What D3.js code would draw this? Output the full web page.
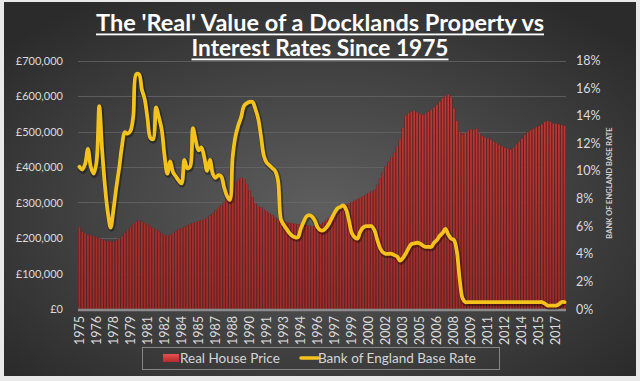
<!DOCTYPE html>
<html><head><meta charset="utf-8">
<script src="https://cdn.jsdelivr.net/npm/d3@7/dist/d3.min.js"></script>
<style>html,body{margin:0;padding:0;background:#fff}svg{display:block}</style>
</head><body>
<svg id="chart" width="640" height="381"></svg>
<script>
// ---------- DATA ----------
const years = [1975,1976,1977,1978,1979,1980,1981,1982,1983,1984,1985,1986,1987,1988,1989,1990,1991,1992,1993,1994,1995,1996,1997,1998,1999,2000,2001,2002,2003,2004,2005,2006,2007,2008,2009,2010,2011,2012,2013,2014,2015,2016,2017];
const quarterNames = ["Q1","Q2","Q3","Q4"];
const tickLabels = ["1975","1976","1978","1979","1981","1982","1984","1985","1987","1988","1990","1991","1993","1994","1996","1997","1999","2000","2002","2003","2005","2006","2008","2009","2011","2012","2014","2015","2017"];
const leftTicks = [0,100000,200000,300000,400000,500000,600000,700000];
const rightTicks = [0,2,4,6,8,10,12,14,16,18];
// Real house price (£), quarterly 1975 Q1 .. 2017 Q4
const realHousePrice = [
 230000,218000,214000,210000, 207000,205000,202000,199000, 196000,193000,191000,190000, 190000,193000,199000,206000,
 214000,222000,231000,239000, 245000,249000,246000,242000, 238000,233000,228000,223000, 218000,213000,208000,206000,
 209000,214000,219000,224000, 228000,232000,236000,239000, 242000,245000,248000,250000, 253000,257000,263000,269000,
 277000,285000,292000,300000, 315000,330000,345000,356000, 364000,370000,366000,352000, 335000,315000,298000,290000,
 286000,281000,276000,270000, 264000,258000,252000,248000, 246000,244000,243000,241000, 240000,239000,238000,237000,
 236000,235000,234000,233000, 234000,238000,244000,250000, 256000,262000,268000,274000, 280000,286000,292000,297000,
 301000,305000,309000,313000, 318000,322000,327000,331000, 336000,350000,368000,385000, 402000,415000,428000,440000,
 458000,477000,510000,545000, 552000,556000,558000,554000, 549000,547000,551000,556000, 562000,568000,575000,584000,
 594000,601000,604000,596000, 565000,530000,500000,491000, 496000,503000,506000,505000, 508000,496000,487000,484000,
 481000,477000,472000,467000, 462000,458000,454000,451000, 449000,455000,464000,472000, 480000,490000,498000,503000,
 508000,512000,515000,520000, 527000,530000,527000,522000, 522000,520000,518000,516000
];
// Bank of England base rate (%), quarterly 1975 Q1 .. 2017 Q4
const baseRate = [
 10.3,10.1,10.5,11.6, 10.3,9.8,10.6,14.7, 11.5,8.9,7.0,5.9, 7.2,8.8,10.2,11.8,
 12.8,12.7,12.9,14.0, 17.0,17.0,15.9,15.2, 13.8,12.4,12.3,14.6, 13.9,13.0,11.1,9.8,
 10.7,9.9,9.6,9.3, 9.1,10.8,10.2,10.3, 13.1,12.2,11.5,11.7, 11.0,10.0,10.8,9.8,
 9.5,9.7,9.6,8.8, 8.2,7.9,11.0,12.5, 13.3,13.9,14.7,14.9, 15.0,15.0,14.5,13.8,
 12.5,11.1,10.6,10.4, 10.2,10.0,9.3,6.5, 6.1,5.8,5.5,5.3, 5.2,5.2,5.8,6.3,
 6.7,6.8,6.7,6.4, 5.9,5.7,5.7,5.9, 6.2,6.6,7.0,7.3, 7.4,7.5,7.2,6.4,
 5.5,5.2,5.1,5.6, 5.9,6.0,6.0,6.0, 5.7,5.0,4.4,4.1, 4.0,4.0,4.0,3.9,
 3.8,3.5,3.7,4.0, 4.4,4.7,4.75,4.8, 4.75,4.6,4.5,4.5, 4.5,4.8,5.0,5.3,
 5.5,5.8,5.4,5.1, 5.0,4.2,2.2,0.8, 0.5,0.5,0.5,0.5, 0.5,0.5,0.5,0.5,
 0.5,0.5,0.5,0.5, 0.5,0.5,0.5,0.5, 0.5,0.5,0.5,0.5, 0.5,0.5,0.5,0.5,
 0.5,0.5,0.5,0.5, 0.4,0.25,0.25,0.25, 0.25,0.35,0.5,0.5
];
const categories = years.flatMap(y => quarterNames.map(q => y + " " + q));
const seriesNames = ["Real House Price", "Bank of England Base Rate"];

// ---------- CHART ----------
const svg = d3.select("#chart");
const W = 640, H = 381;
const plot = {left: 78, right: 566, top: 60.5, bottom: 309};
const FONT = "Lato, 'Open Sans', sans-serif";

const defs = svg.append("defs");
const bg = defs.append("radialGradient").attr("id","bgGrad").attr("cx","50%").attr("cy","55%").attr("r","66%");
bg.append("stop").attr("offset","0%").attr("stop-color","#5e5e5e");
bg.append("stop").attr("offset","100%").attr("stop-color","#2b2b2b");
const bGrad = defs.append("linearGradient").attr("id","barGrad").attr("gradientUnits","userSpaceOnUse")
  .attr("x1",0).attr("y1",plot.top).attr("x2",0).attr("y2",plot.bottom);
bGrad.append("stop").attr("offset","0%").attr("stop-color","#c63e3a");
bGrad.append("stop").attr("offset","100%").attr("stop-color","#9a2c2a");
const lg = defs.append("linearGradient").attr("id","legRed").attr("x1",0).attr("y1",0).attr("x2",0).attr("y2",1);
lg.append("stop").attr("offset","0%").attr("stop-color","#e85050");
lg.append("stop").attr("offset","100%").attr("stop-color","#b52a2a");

// frame
svg.append("rect").attr("x",0).attr("y",0).attr("width",W).attr("height",H).attr("fill","#e9e9e9");
svg.append("rect").attr("x",4).attr("y",2).attr("width",632).attr("height",374).attr("fill","url(#bgGrad)");

const x = d3.scaleBand().domain(categories).range([plot.left, plot.right]).padding(0);
const yL = d3.scaleLinear().domain([0,700000]).range([plot.bottom, plot.top]);
const yR = d3.scaleLinear().domain([0,18]).range([plot.bottom, plot.top]);
const bw = x.bandwidth();

// gridlines
svg.append("g").selectAll("line").data(leftTicks.slice(1)).join("line")
  .attr("x1",plot.left).attr("x2",plot.right)
  .attr("y1",d=>Math.round(yL(d))+0.5).attr("y2",d=>Math.round(yL(d))+0.5)
  .attr("stroke","#6a6a6a").attr("stroke-width",1).attr("opacity",0.7);

// bars
const bars = svg.append("g");
bars.selectAll("rect.base").data(realHousePrice).join("rect").attr("class","base")
  .attr("x",(d,i)=>x(categories[i])).attr("width",bw)
  .attr("y",d=>yL(d)).attr("height",d=>yL(0)-yL(d))
  .attr("fill","#5f1d1d");
bars.selectAll("rect.hi").data(realHousePrice).join("rect").attr("class","hi")
  .attr("x",(d,i)=>x(categories[i])+bw*0.2).attr("width",bw*0.6)
  .attr("y",d=>yL(d)).attr("height",d=>yL(0)-yL(d))
  .attr("fill","url(#barGrad)");

// baseline
svg.append("line").attr("x1",plot.left).attr("x2",plot.right)
  .attr("y1",yL(0)+1).attr("y2",yL(0)+1).attr("stroke","#8a8a8a").attr("stroke-width",2.5);

// line
const line = d3.line().x((d,i)=>x(categories[i])+bw/2).y(d=>yR(d)).curve(d3.curveCatmullRom.alpha(0.5));
svg.append("path").datum(baseRate).attr("d",line).attr("fill","none")
  .attr("stroke","#000").attr("stroke-opacity",0.35).attr("stroke-width",6)
  .attr("stroke-linejoin","round").attr("transform","translate(0.8,1.2)");
svg.append("path").datum(baseRate).attr("d",line).attr("fill","none")
  .attr("stroke","#f3c21c").attr("stroke-width",3.8).attr("stroke-linejoin","round").attr("stroke-linecap","round");

// left axis
const gl = svg.append("g").attr("transform",`translate(${plot.left-12},0)`)
  .call(d3.axisLeft(yL).tickValues(leftTicks).tickSize(0).tickPadding(3)
    .tickFormat(d => "£" + d3.format(",")(d)));
gl.select(".domain").remove();
gl.selectAll("text").attr("fill","#dcdcdc").style("font-family",FONT).style("font-size","11px");

// right axis
const gr = svg.append("g").attr("transform",`translate(${plot.right+7},0)`)
  .call(d3.axisRight(yR).tickValues(rightTicks).tickSize(0).tickPadding(3).tickFormat(d => d + "%"));
gr.select(".domain").remove();
gr.selectAll("text").attr("fill","#dcdcdc").style("font-family",FONT).style("font-size","12.5px");

// right axis title
svg.append("text").attr("transform","translate(612,183) rotate(-90)")
  .attr("text-anchor","middle").attr("fill","#d0d0d0")
  .style("font-family",FONT).style("font-weight","bold").style("font-size","7.5px")
  .text("BANK OF ENGLAND BASE RATE");

// x axis
const xTickVals = categories.filter((d,i)=>i%6===0);
const gx = svg.append("g").attr("transform",`translate(0,${plot.bottom})`)
  .call(d3.axisBottom(x).tickValues(xTickVals).tickSize(0)
    .tickFormat((d)=>tickLabels[categories.indexOf(d)/6]));
gx.select(".domain").remove();
gx.selectAll("text").attr("fill","#dcdcdc").style("font-family",FONT).style("font-size","12.5px")
  .attr("transform","rotate(-90)").attr("text-anchor","end")
  .attr("x",-7).attr("y",0).attr("dy","0.35em");

// title
const titleLines = ["The 'Real' Value of a Docklands Property vs","Interest Rates Since 1975"];
const titleW = [448, 257];
const titleY = [31, 56];
titleLines.forEach((t,i)=>{
  svg.append("text").attr("x",320).attr("y",titleY[i]).attr("text-anchor","middle")
    .attr("fill","#ffffff").style("font-family",FONT).style("font-weight","bold").style("font-size","22px")
    .attr("textLength",titleW[i]).attr("lengthAdjust","spacingAndGlyphs").text(t);
  svg.append("rect").attr("x",320-titleW[i]/2).attr("y",titleY[i]+2.5).attr("width",titleW[i]).attr("height",1.8).attr("fill","#ffffff");
});

// legend
const leg = svg.append("g");
leg.append("rect").attr("x",142.5).attr("y",347.5).attr("width",357).attr("height",22)
  .attr("fill","none").attr("stroke","#858585").attr("stroke-width",1);
leg.append("rect").attr("x",163).attr("y",354).attr("width",16).attr("height",8).attr("fill","url(#legRed)");
leg.append("text").attr("x",180).attr("y",363).attr("fill","#d6d6d6")
  .style("font-family",FONT).style("font-size","13.5px").text(seriesNames[0]);
leg.append("line").attr("x1",301).attr("x2",318).attr("y1",358).attr("y2",358)
  .attr("stroke","#f3c21c").attr("stroke-width",3.5).attr("stroke-linecap","round");
leg.append("text").attr("x",318).attr("y",363).attr("fill","#d6d6d6")
  .style("font-family",FONT).style("font-size","13.5px").text(seriesNames[1]);
</script>
</body></html>
